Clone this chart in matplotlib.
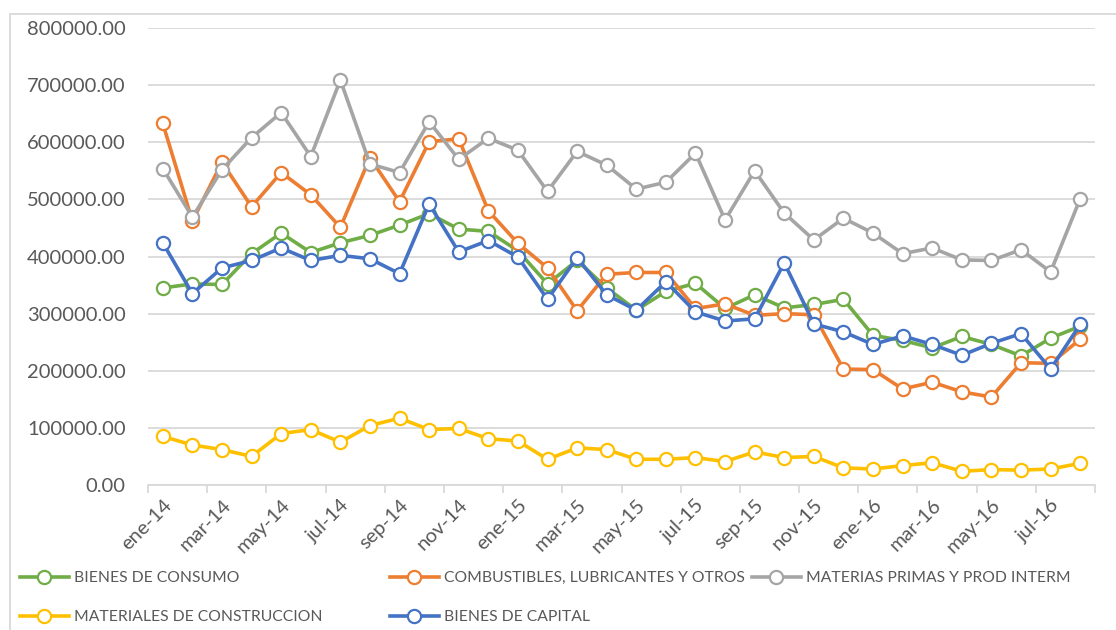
import matplotlib
matplotlib.use('Agg')
import numpy as np
import matplotlib.pyplot as plt
from matplotlib.patches import Rectangle

plt.rcParams['font.family'] = ['Lato', 'DejaVu Sans']

# months ene-14 .. ago-16
months = ['ene-14', 'feb-14', 'mar-14', 'abr-14', 'may-14', 'jun-14', 'jul-14', 'ago-14',
          'sep-14', 'oct-14', 'nov-14', 'dic-14', 'ene-15', 'feb-15', 'mar-15', 'abr-15',
          'may-15', 'jun-15', 'jul-15', 'ago-15', 'sep-15', 'oct-15', 'nov-15', 'dic-15',
          'ene-16', 'feb-16', 'mar-16', 'abr-16', 'may-16', 'jun-16', 'jul-16', 'ago-16']

consumo = [345000, 352000, 351000, 405000, 441000, 407000, 424000, 437000,
           455000, 475000, 448000, 444000, 410000, 352000, 393000, 345000,
           306000, 339000, 353000, 309000, 333000, 310000, 316000, 325000,
           262000, 253000, 240000, 260000, 246000, 226000, 257000, 278000]

combustibles = [633000, 462000, 565000, 487000, 547000, 508000, 451000, 573000,
                496000, 601000, 606000, 480000, 423000, 380000, 305000, 369000,
                372000, 372000, 309000, 317000, 297000, 300000, 298000, 203000,
                202000, 168000, 180000, 163000, 154000, 214000, 213000, 255000]

materias = [554000, 469000, 552000, 608000, 652000, 575000, 709000, 562000,
            547000, 636000, 570000, 607000, 586000, 514000, 584000, 560000,
            518000, 530000, 581000, 464000, 550000, 476000, 429000, 467000,
            441000, 405000, 415000, 394000, 393000, 412000, 373000, 501000]

construccion = [85000, 70000, 62000, 50000, 90000, 97000, 75000, 104000,
                117000, 97000, 99000, 81000, 77000, 45000, 65000, 62000,
                45000, 45000, 48000, 41000, 58000, 48000, 50000, 30000,
                28000, 34000, 39000, 24000, 27000, 26000, 28000, 38000]

capital = [424000, 335000, 380000, 393000, 415000, 393000, 402000, 396000,
           370000, 492000, 408000, 428000, 399000, 325000, 398000, 333000,
           306000, 356000, 303000, 287000, 291000, 389000, 282000, 268000,
           246000, 261000, 246000, 227000, 248000, 265000, 203000, 281000]

series = [
    ('BIENES DE CONSUMO', consumo, '#70AD47'),
    ('COMBUSTIBLES, LUBRICANTES Y OTROS', combustibles, '#ED7D31'),
    ('MATERIAS PRIMAS Y PROD INTERM', materias, '#A5A5A5'),
    ('MATERIALES DE CONSTRUCCION', construccion, '#FFC000'),
    ('BIENES DE CAPITAL', capital, '#4472C4'),
]

W, H = 1116, 630
fig = plt.figure(figsize=(W / 100, H / 100), dpi=100)
ax = fig.add_axes([148 / W, 1 - 485 / H, (1095 - 148) / W, (485 - 28) / H])

x = np.arange(len(months))
handles = []
for name, vals, col in series:
    h, = ax.plot(x, vals, color=col, lw=2.6, marker='o', ms=9.5,
                 mfc='white', mec=col, mew=1.6, label=name, zorder=3)
    handles.append(h)

ax.set_xlim(-0.5, len(months) - 0.5)
ax.set_ylim(0, 800000)
ax.set_yticks(np.arange(0, 800001, 100000))
ax.set_yticklabels(['%.2f' % v for v in np.arange(0, 800001, 100000)])
ax.yaxis.grid(True, color='#D9D9D9', lw=1.3)
ax.set_axisbelow(True)

ax.set_xticks(x[::2])
ax.set_xticklabels(months[::2], rotation=45, ha='right', va='top',
                   rotation_mode='anchor')
ax.set_xticks(np.arange(-0.5, len(months), 2), minor=True)
ax.tick_params(axis='x', which='major', length=0, pad=8)
ax.tick_params(axis='x', which='minor', length=6, color='#D9D9D9', width=1.3)
ax.tick_params(axis='y', length=0, pad=16)
ax.tick_params(labelsize=14.5, labelcolor='#595959')

for s in ['top', 'right', 'left']:
    ax.spines[s].set_visible(False)
ax.spines['bottom'].set_color('#D9D9D9')
ax.spines['bottom'].set_linewidth(1.3)

# chart frame (only top and left edge fall inside the image)
fig.patches.append(Rectangle((10 / W, -0.1), 1.2, 1 - 14 / H + 0.1,
                             transform=fig.transFigure, fill=False,
                             edgecolor='#D9D9D9', lw=1.3))

# legend entries placed like the Excel legend
spots = [(20, 578), (390, 578), (752, 578), (20, 617), (390, 617)]
for h, (lx, ly) in zip(handles, spots):
    fig.legend(handles=[h], loc='center left', bbox_to_anchor=(lx / W, 1 - ly / H),
               frameon=False, borderpad=0, borderaxespad=0, handlelength=3.1,
               handletextpad=0.35, labelcolor='#595959', prop={'size': 11.3})

plt.savefig('out.png', dpi=100)
